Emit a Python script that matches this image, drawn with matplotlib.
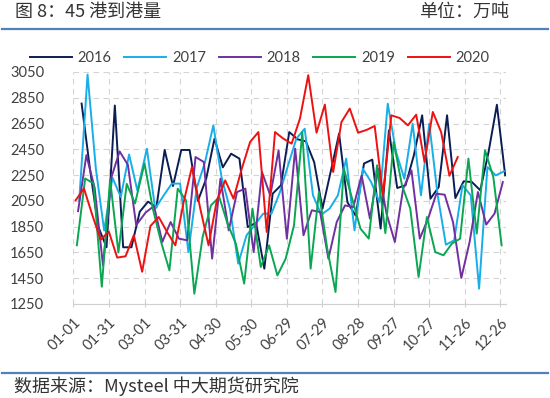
import pandas as pd
import matplotlib
matplotlib.use('Agg')
from matplotlib import pyplot as plt
from matplotlib.lines import Line2D

plt.rcParams['font.family'] = ['Lato', 'Noto Sans CJK SC', 'DejaVu Sans']

# weekly arrivals at 45 ports (万吨), one list per year
years = ['2016', '2017', '2018', '2019', '2020']
first_day = ['2016-01-08', '2017-01-06', '2018-01-05', '2019-01-04', '2020-01-03']
colors = ['#0b1d55', '#18aee8', '#7030a0', '#0aa652', '#ee1111']

v2016 = [2805, 2300, 1850, 1690, 2790, 1690, 1690, 1966, 2044, 2000,
         2445, 2165, 2445, 2445, 2050, 2222, 2533, 2310, 2416, 2378,
         1847, 1880, 1524, 2106, 2171, 2584, 2528, 2512, 2350, 1990,
         2280, 2572, 2040, 1935, 2340, 2370, 1835, 2597, 2150, 2171,
         2403, 2714, 2067, 2158, 2714, 2072, 2202, 2196, 2132, 2430,
         2796, 2248]
v2017 = [2054, 3030, 2300, 1820, 2230, 2080, 2410, 2130, 2455, 1990,
         2090, 2184, 2184, 1653, 2150, 2350, 2636, 2230, 1990, 1563,
         1783, 1865, 1951, 1951, 2114, 2326, 2533, 2610, 2093, 1943,
         1990, 2093, 2378, 1821, 2300, 2196, 2041, 2804, 2430, 2222,
         2649, 2093, 2649, 2100, 1710, 1744, 2171, 2093, 1369, 2313,
         2248, 2279]
v2018 = [1970, 2405, 2150, 1550, 2230, 2434, 2330, 1862, 1960, 2010,
         1731, 1886, 1757, 1744, 2390, 2352, 1602, 2222, 1821, 2119,
         2145, 1653, 2274, 2093, 2442, 1757, 2455, 1783, 1977, 1964,
         1602, 1886, 2015, 2002, 2248, 1912, 2300, 1950, 1731, 2145,
         2287, 1757, 1912, 2106, 2098, 1886, 1452, 1731, 2119, 1866,
         1951, 2196]
v2019 = [1706, 2224, 2185, 1384, 2215, 1650, 2182, 2030, 2340, 1990,
         1731, 1511, 2145, 2054, 1330, 1770, 2015, 2080, 1873, 1718,
         1408, 1990, 1537, 1705, 1472, 1602, 1860, 2584, 1524, 2119,
         1680, 1343, 2300, 2067, 1835, 1757, 2326, 1800, 2507, 2171,
         1990, 1460, 1925, 1653, 1628, 1718, 1757, 2378, 1796, 2442,
         2235, 1705]
v2020 = [2055, 2146, 1940, 1750, 1810, 1610, 1620, 1784, 1500, 1855,
         1925, 1809, 1705, 2041, 2313, 1990, 1705, 2055, 2209, 2067,
         2300, 2507, 2584, 1809, 2584, 2533, 2494, 2688, 3025, 2579,
         2797, 2274, 2662, 2766, 2579, 2600, 2631, 2093, 2714, 2693,
         2636, 2719, 2352, 2740, 2584, 2245, 2390]
values = [v2016, v2017, v2018, v2019, v2020]

yticks = list(range(1250, 3051, 200))
xticks = pd.date_range('2020-01-01', periods=13, freq='30D')

fig = plt.figure(figsize=(5.5, 3.98), dpi=100)
ax = fig.add_axes([0.1333, 0.2362, 0.7874, 0.5829])

for yr, start, vals, c in zip(years, first_day, values, colors):
    dates = pd.date_range(start, periods=len(vals), freq='7D')
    # put every year on the same month-day calendar
    dates = [d.replace(year=2020) for d in dates]
    ax.plot(dates, vals, color=c, lw=1.4, label=yr)

ax.set_xlim(pd.Timestamp('2020-01-01'), pd.Timestamp('2020-12-31'))
ax.set_ylim(1250, 3050)
ax.set_yticks(yticks)
ax.set_xticks(xticks)
ax.set_xticklabels([d.strftime('%m-%d') for d in xticks], rotation=45,
                   ha='right', va='top', rotation_mode='anchor')
ax.tick_params(axis='x', direction='inout', length=5, color='#d0d0d0',
               labelsize=10.5, labelcolor='#404040', pad=6)
ax.tick_params(axis='y', length=0, labelsize=10.5, labelcolor='#404040', pad=21)
ax.grid(True, linestyle=(0, (5, 4)), color='#d4d4d4', lw=0.8)
ax.set_axisbelow(True)
for s in ['top', 'right', 'left']:
    ax.spines[s].set_visible(False)
ax.spines['bottom'].set_color('#d0d0d0')

ax.legend(loc='center', bbox_to_anchor=(0.472, 0.855), bbox_transform=fig.transFigure,
          ncol=5, frameon=False, fontsize=10.5, handlelength=2.9,
          handletextpad=0.4, columnspacing=0.85, labelcolor='#404040')

# header / footer
cjk = ['Noto Sans CJK SC', 'DejaVu Sans']
fig.text(0.027, 0.970, '图 8：45 港到港量', family=cjk, fontsize=13,
         color='#333333', va='center', ha='left')
fig.text(0.926, 0.970, '单位：万吨', family=cjk, fontsize=13,
         color='#333333', va='center', ha='right')
fig.text(0.026, 0.030, '数据来源：Mysteel 中大期货研究院', family=cjk, fontsize=13,
         color='#333333', va='center', ha='left')
fig.add_artist(Line2D([0.004, 0.996], [0.927, 0.927], transform=fig.transFigure,
                      color='#4f81bd', lw=1.6))
fig.add_artist(Line2D([0.004, 0.996], [0.064, 0.064], transform=fig.transFigure,
                      color='#4f81bd', lw=1.6))

fig.savefig('out.png', dpi=100)
